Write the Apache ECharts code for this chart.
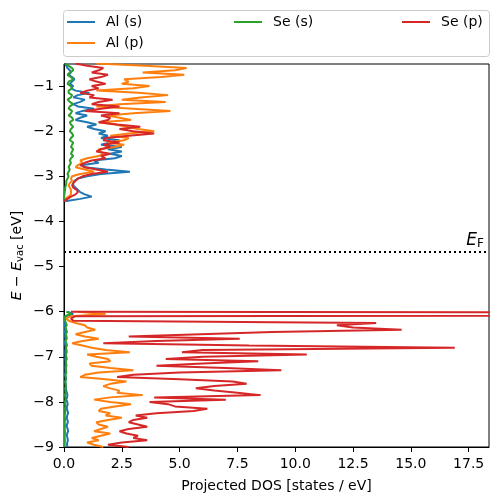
<!DOCTYPE html>
<html>
<head>
<meta charset="utf-8">
<script src="https://cdn.jsdelivr.net/npm/echarts@6/dist/echarts.min.js"></script>
<style>html,body{margin:0;padding:0;background:#fff}#c{width:498px;height:502px}</style>
</head>
<body>
<div id="c"></div>
<script>
// Energy grids (eV, relative to vacuum)
const energyUpper = [-0.5,-0.55,-0.6,-0.65,-0.7,-0.75,-0.8,-0.85,-0.9,-0.95,
 -1.0,-1.05,-1.1,-1.15,-1.2,-1.25,-1.3,-1.35,-1.4,-1.45,
 -1.5,-1.55,-1.6,-1.65,-1.7,-1.75,-1.8,-1.85,-1.9,-1.95,
 -2.0,-2.05,-2.1,-2.15,-2.2,-2.25,-2.3,-2.35,-2.4,-2.45,
 -2.5,-2.55,-2.6,-2.65,-2.7,-2.75,-2.8,-2.85,-2.9,-2.95,
 -3.0,-3.05,-3.1,-3.15,-3.2,-3.25,-3.3,-3.35,-3.4,-3.45,
 -3.5,-3.55];
const energyLower = [-6.0,-6.05,-6.1,-6.15,-6.2,-6.25,-6.3,-6.35,-6.4,-6.45,
 -6.5,-6.55,-6.6,-6.65,-6.7,-6.75,-6.8,-6.85,-6.9,-6.95,
 -7.0,-7.05,-7.1,-7.15,-7.2,-7.25,-7.3,-7.35,-7.4,-7.45,
 -7.5,-7.55,-7.6,-7.65,-7.7,-7.75,-7.8,-7.85,-7.9,-7.95,
 -8.0,-8.05,-8.1,-8.15,-8.2,-8.25,-8.3,-8.35,-8.4,-8.45,
 -8.5,-8.55,-8.6,-8.65,-8.7,-8.75,-8.8,-8.85,-8.9,-8.95,
 -9.0];

// Projected DOS [states / eV]
const alS_upper = [0.05,0.1,0.15,0.25,0.3,0.2,0.35,0.45,0.35,0.25,
 0.4,0.3,0.5,1.1,0.6,0.4,0.9,0.7,0.4,0.6,
 1.3,0.8,0.5,1.0,0.7,0.5,1.0,1.4,1.0,1.3,
 1.8,1.5,1.9,1.6,2.4,2.0,1.6,2.5,1.9,2.5,
 2.0,2.5,2.2,1.3,1.5,0.8,0.9,1.8,2.85,1.6,
 1.0,0.6,0.45,0.4,0.4,0.5,0.6,0.7,0.9,1.2,
 0.7,0.05];
const alP_upper = [1.4,3.5,5.3,4.8,3.4,5.2,4.2,2.6,2.8,2.5,
 3.7,3.0,1.4,3.2,4.5,3.3,2.5,4.4,2.4,1.4,
 3.0,4.6,3.0,1.9,2.4,2.9,1.5,2.2,2.7,3.2,
 3.9,2.8,2.0,2.8,2.6,1.9,2.6,2.2,1.5,1.6,
 1.7,1.5,1.0,0.7,0.8,0.6,0.5,0.9,1.3,0.7,
 0.35,0.3,0.35,0.25,0.2,0.25,0.3,0.3,0.3,0.2,
 0.05,0.0];
const seS_upper = [0.05,0.2,0.35,0.4,0.25,0.15,0.3,0.4,0.2,0.15,
 0.3,0.35,0.2,0.2,0.35,0.3,0.15,0.25,0.4,0.25,
 0.2,0.35,0.3,0.2,0.35,0.4,0.25,0.3,0.4,0.3,
 0.25,0.35,0.4,0.3,0.25,0.4,0.35,0.3,0.4,0.35,
 0.3,0.4,0.3,0.25,0.3,0.25,0.2,0.25,0.2,0.15,
 0.2,0.15,0.1,0.1,0.08,0.05,0.05,0.03,0.02,0.0,
 0.0,0.0];
const seP_upper = [0.5,1.0,1.7,1.5,1.2,1.9,1.6,1.1,1.4,1.8,
 1.2,1.5,1.0,0.7,1.3,1.1,2.1,1.5,1.2,2.4,
 1.6,0.9,2.4,1.6,2.0,1.9,1.5,2.3,3.3,2.4,
 3.0,3.9,2.8,1.8,1.7,2.4,1.7,2.0,1.6,1.4,
 2.0,1.6,1.8,1.2,0.9,0.7,0.9,1.4,1.9,1.2,
 0.8,0.6,0.5,0.4,0.35,0.4,0.55,0.6,0.5,0.3,
 0.15,0.0];

const alS_lower = [0.15,0.4,0.05,0.02,0.03,0.05,0.04,0.06,0.05,0.04,
 0.06,0.05,0.07,0.05,0.04,0.06,0.08,0.06,0.05,0.07,
 0.06,0.05,0.08,0.07,0.06,0.08,0.07,0.06,0.05,0.07,
 0.08,0.06,0.07,0.09,0.08,0.1,0.12,0.15,0.13,0.1,
 0.14,0.16,0.13,0.12,0.15,0.18,0.14,0.12,0.15,0.17,
 0.13,0.12,0.16,0.18,0.14,0.12,0.15,0.17,0.14,0.13,
 0.15];
const alP_lower = [0.6,1.8,0.3,0.1,0.2,0.5,0.9,1.0,1.35,0.9,
 0.5,0.9,1.5,0.8,0.35,0.8,1.2,1.8,2.85,1.0,
 1.4,1.9,2.0,1.1,1.2,2.0,3.0,1.5,0.9,0.7,
 1.8,2.7,2.0,1.7,2.0,2.4,2.3,3.4,2.0,1.3,
 2.0,2.9,2.2,1.6,1.5,2.0,1.8,2.5,1.9,1.4,
 1.5,1.9,1.6,1.3,2.0,1.6,1.2,1.5,1.0,1.3,
 1.7];
const seS_lower = [0.1,0.3,0.05,0.03,0.05,0.08,0.12,0.06,0.1,0.13,
 0.07,0.11,0.12,0.06,0.1,0.13,0.08,0.11,0.12,0.07,
 0.1,0.12,0.07,0.09,0.11,0.06,0.09,0.1,0.06,0.08,
 0.09,0.05,0.07,0.08,0.05,0.06,0.07,0.04,0.06,0.07,
 0.04,0.05,0.06,0.04,0.05,0.05,0.03,0.04,0.05,0.03,
 0.04,0.04,0.03,0.04,0.04,0.03,0.03,0.04,0.03,0.03,
 0.03];
const seP_lower = [0.3,80,0.5,0.3,0.4,13.5,11.8,12.5,14.6,9.0,
 5.9,2.8,7.6,4.0,1.7,8.0,16.9,6.0,5.1,10.5,
 6.0,4.4,8.4,6.0,4.0,7.0,9.4,5.0,3.0,2.3,
 5.0,7.3,7.9,6.5,5.7,6.5,7.5,8.5,3.9,7.0,
 3.7,4.5,4.8,6.2,5.6,4.0,3.1,3.6,3.0,2.8,
 3.2,3.6,2.8,2.4,2.7,3.2,3.0,3.6,2.5,1.9,
 2.8];

const seriesNames = ['Al (s)', 'Al (p)', 'Se (s)', 'Se (p)'];
const seriesColors = ['#1f77b4', '#ff7f0e', '#2ca02c', '#d62728'];
const fermiLevel = -4.68;

function pairs(up, low) {
  const d = up.map((v, i) => [v, energyUpper[i]]);
  d.push(['-', '-']);
  low.forEach((v, i) => d.push([v, energyLower[i]]));
  return d;
}
const allData = [
  pairs(alS_upper, alS_lower),
  pairs(alP_upper, alP_lower),
  pairs(seS_upper, seS_lower),
  pairs(seP_upper, seP_lower)
];

const FONT = 'DejaVu Sans';
const chart = echarts.init(document.getElementById('c'), null, {renderer: 'canvas'});

const legendPos = [[67, 15], [67, 36], [234, 15], [402, 15]];
const legends = seriesNames.map((n, i) => ({
  data: [n],
  left: legendPos[i][0], top: legendPos[i][1],
  padding: 0,
  icon: 'rect', itemWidth: 28, itemHeight: 2,
  textStyle: {fontFamily: FONT, fontSize: 14, color: '#000', padding: [0, 0, 0, 6]},
  selectedMode: false
}));

const series = seriesNames.map((n, i) => ({
  name: n, type: 'line', data: allData[i],
  showSymbol: false, symbol: 'none', connectNulls: false,
  lineStyle: {width: 2, color: seriesColors[i]},
  itemStyle: {color: seriesColors[i]},
  animation: false, clip: true, z: 2 + i
}));
series[3].markLine = {
  silent: true, symbol: ['none', 'none'], animation: false,
  lineStyle: {color: '#000', type: [2, 3], width: 2},
  label: {
    show: true, position: 'insideEndTop', distance: [5, 2],
    formatter: '{i|E}{s|F}',
    rich: {
      i: {fontFamily: FONT, fontStyle: 'italic', fontSize: 17, color: '#000'},
      s: {fontFamily: FONT, fontSize: 12, color: '#000', verticalAlign: 'top', padding: [8, 0, 0, 0]}
    }
  },
  data: [{yAxis: fermiLevel}]
};

chart.setOption({
  animation: false,
  backgroundColor: '#fff',
  legend: legends,
  graphic: [{
    type: 'rect', left: 63, top: 10, z: -1,
    shape: {width: 426, height: 46, r: 3},
    style: {fill: '#fff', stroke: '#cccccc', lineWidth: 1}
  }],
  grid: {left: 64, right: 9, top: 64, bottom: 55, show: true, borderColor: '#000', borderWidth: 1,
    backgroundColor: 'transparent', containLabel: false, outerBoundsMode: 'none'},
  xAxis: {
    type: 'value', min: 0, max: 18.38, interval: 2.5,
    name: 'Projected DOS [states / eV]', nameLocation: 'middle', nameGap: 32,
    nameTextStyle: {fontFamily: FONT, fontSize: 14, color: '#000'},
    axisLine: {show: true, onZero: false, lineStyle: {color: '#000', width: 1}},
    axisTick: {show: true, inside: false, length: 5, lineStyle: {color: '#000'}},
    axisLabel: {fontFamily: FONT, fontSize: 14, color: '#000', margin: 10, showMaxLabel: false,
      formatter: v => v.toFixed(1)},
    splitLine: {show: false}
  },
  yAxis: {
    type: 'value', min: -9, max: -0.51, interval: 1,
    name: '{i|E} \u2212 {i|E}{s|vac} [eV]', nameLocation: 'middle', nameGap: 39, nameRotate: 90,
    nameMoveOverlap: false,
    nameTextStyle: {fontFamily: FONT, fontSize: 14, color: '#000',
      rich: {
        i: {fontFamily: FONT, fontStyle: 'italic', fontSize: 14, color: '#000'},
        s: {fontFamily: FONT, fontSize: 10, color: '#000', verticalAlign: 'top', padding: [6, 0, 0, 0]}
      }},
    axisLine: {show: true, onZero: false, lineStyle: {color: '#000', width: 1}},
    axisTick: {show: true, inside: false, length: 5, lineStyle: {color: '#000'}},
    axisLabel: {fontFamily: FONT, fontSize: 14, color: '#000', margin: 10, showMaxLabel: false,
      formatter: v => (v < 0 ? '\u2212' : '') + Math.abs(v)},
    splitLine: {show: false}
  },
  series: series
});
</script>
</body>
</html>
